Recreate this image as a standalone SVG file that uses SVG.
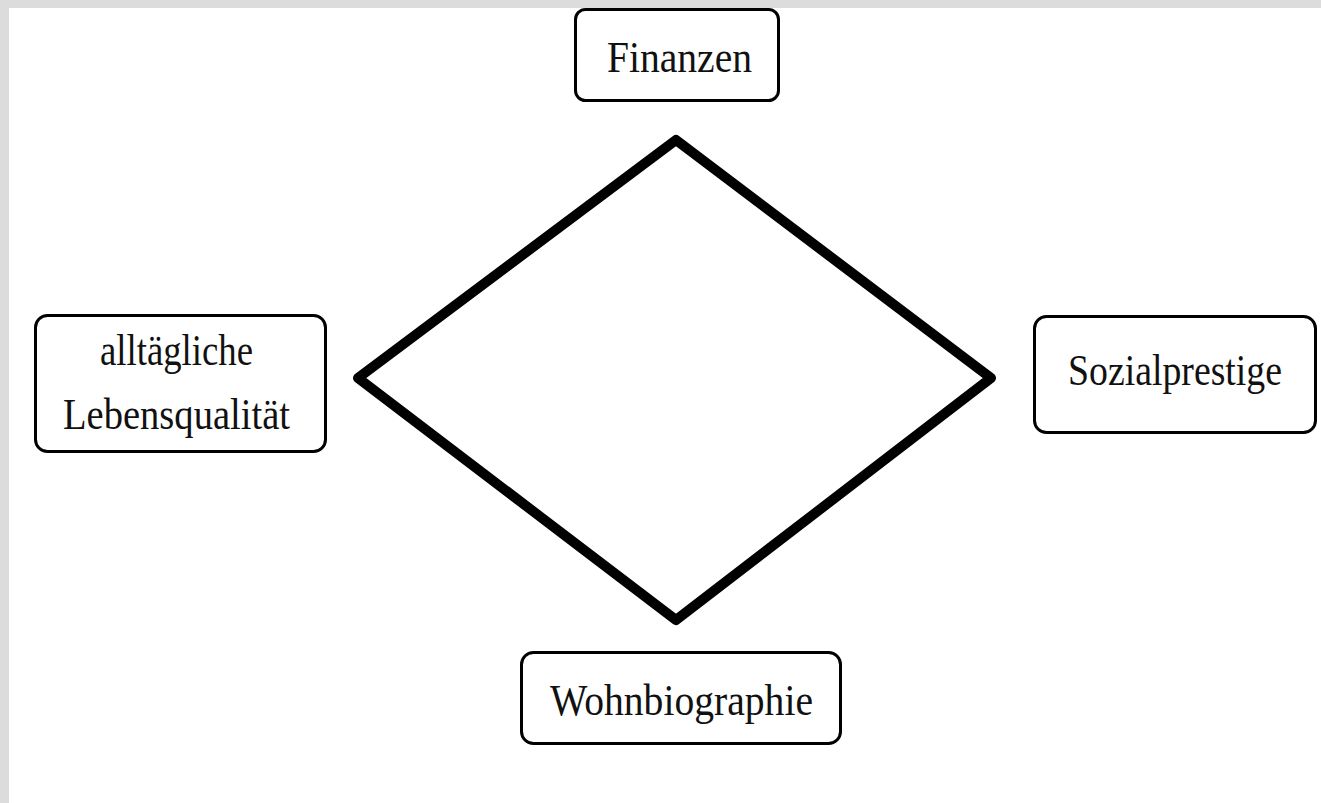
<svg xmlns="http://www.w3.org/2000/svg" width="1321" height="803" viewBox="0 0 1321 803">
<style>
.box{fill:#fff;stroke:#000;stroke-width:3}
.lbl{font-family:"Liberation Serif","Times New Roman",serif;font-size:44px;fill:#111;text-anchor:middle}
</style>
<rect x="0" y="0" width="1321" height="803" fill="#dcdcdc"/>
<rect x="9" y="8" width="1312" height="795" fill="#fff"/>
<g id="connectors">
<path d="M676,140 L991,378 L676,620 L358,378 Z" fill="none" stroke="#000" stroke-width="10" stroke-linejoin="round"/>
</g>
<g id="finanzen">
<rect class="box" x="575.5" y="9.5" width="203" height="91" rx="10"/>
<text class="lbl" x="679.5" y="72" textLength="145" lengthAdjust="spacingAndGlyphs">Finanzen</text>
</g>
<g id="lebensqualitaet">
<rect class="box" x="35.5" y="315.5" width="290" height="136" rx="12"/>
<text class="lbl" x="176.5" y="365" textLength="153" lengthAdjust="spacingAndGlyphs">alltägliche</text>
<text class="lbl" x="176.5" y="429" textLength="227" lengthAdjust="spacingAndGlyphs">Lebensqualität</text>
</g>
<g id="sozialprestige">
<rect class="box" x="1034.5" y="316.5" width="281" height="116" rx="12"/>
<text class="lbl" x="1175" y="385" textLength="214" lengthAdjust="spacingAndGlyphs">Sozialprestige</text>
</g>
<g id="wohnbiographie">
<rect class="box" x="521.5" y="652.5" width="319" height="91" rx="12"/>
<text class="lbl" x="681.5" y="715" textLength="263" lengthAdjust="spacingAndGlyphs">Wohnbiographie</text>
</g>
</svg>
